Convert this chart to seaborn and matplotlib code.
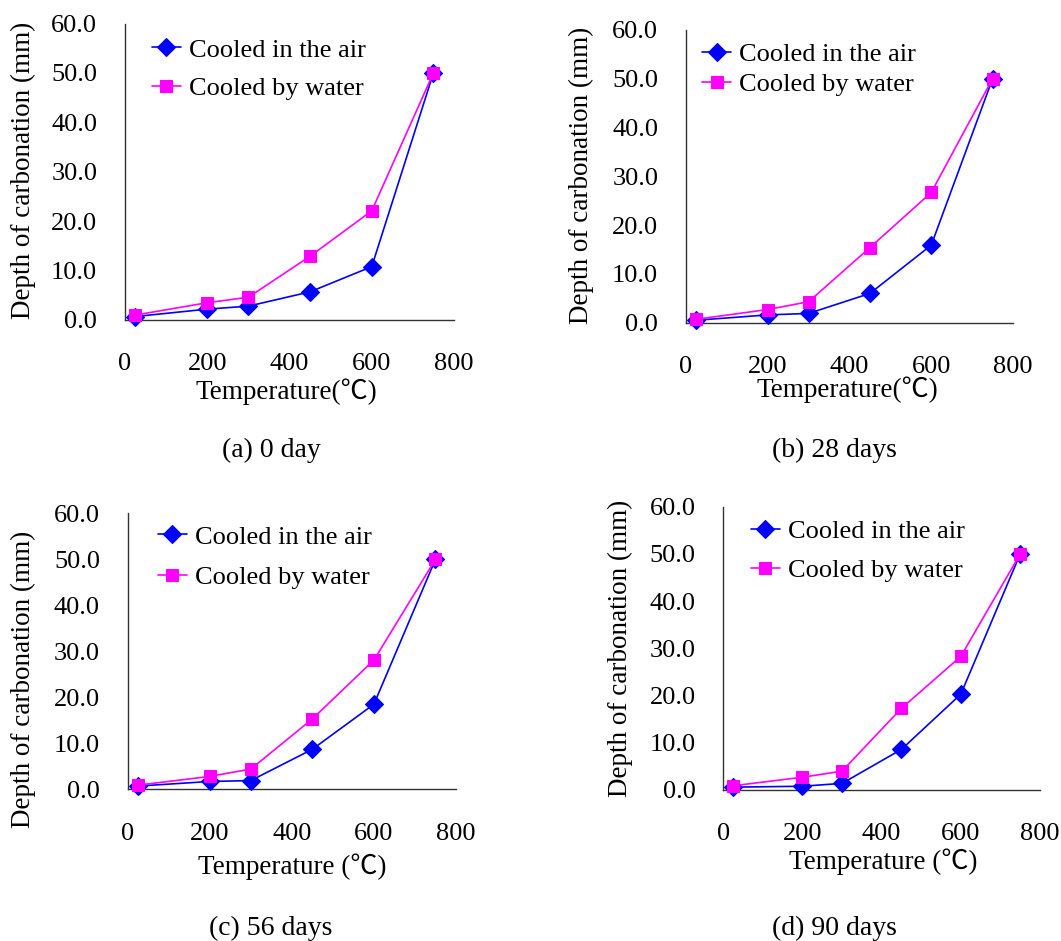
import matplotlib
matplotlib.use("Agg")
import matplotlib.pyplot as plt
import pandas as pd
import seaborn as sns

# Exposure temperature (°C) and measured carbonation depth (mm)
temperature = [25, 200, 300, 450, 600, 750]

air_0 = [0.7, 2.2, 2.8, 5.7, 10.8, 50.0]
water_0 = [1.0, 3.5, 4.6, 12.9, 22.1, 50.0]
air_28 = [0.5, 1.6, 1.9, 6.0, 15.9, 50.0]
water_28 = [0.7, 2.7, 4.3, 15.4, 26.7, 50.0]
air_56 = [0.7, 1.7, 1.9, 8.7, 18.5, 50.0]
water_56 = [0.9, 2.8, 4.4, 15.3, 28.1, 50.0]
air_90 = [0.6, 0.8, 1.4, 8.6, 20.3, 50.0]
water_90 = [0.9, 2.7, 4.0, 17.3, 28.3, 50.0]

series_names = ["Cooled in the air", "Cooled by water"]
captions = ["(a) 0 day", "(b) 28 days", "(c) 56 days", "(d) 90 days"]
x_titles = ["Temperature(℃)", "Temperature(℃)", "Temperature (℃)", "Temperature (℃)"]
y_title = "Depth of carbonation (mm)"
x_ticks = [0, 200, 400, 600, 800]
y_ticks = [0, 10, 20, 30, 40, 50, 60]

sns.set_theme(style="white")
plt.rcParams["font.family"] = ["Liberation Serif", "Noto Sans CJK SC", "DejaVu Sans"]
plt.rcParams["text.color"] = "black"
plt.rcParams["axes.labelcolor"] = "black"
plt.rcParams["axes.unicode_minus"] = False

W, H = 1061, 941
fig = plt.figure(figsize=(W / 100, H / 100), dpi=100)

# panel layout in pixels: (left, top, right, bottom)
layout = [
    dict(box=(125, 23.5, 454, 320), leg=(0.082, 0.951), lsp=0.56,
         xl=(0.492, -0.243), yl=(-0.31, 0.505), cap=(271, 450)),
    dict(box=(686, 30, 1013, 322.7), leg=(0.049, 0.956), lsp=0.25,
         xl=(0.495, -0.23), yl=(-0.319, 0.505), cap=(834, 450)),
    dict(box=(127.7, 513.3, 456, 789.3), leg=(0.092, 0.957), lsp=0.65,
         xl=(0.50, -0.2815), yl=(-0.318, 0.40), cap=(271, 928)),
    dict(box=(723.3, 506.7, 1040, 790), leg=(0.087, 0.953), lsp=0.56,
         xl=(0.504, -0.254), yl=(-0.326, 0.50), cap=(834, 928)),
]
panel_data = [(air_0, water_0), (air_28, water_28), (air_56, water_56), (air_90, water_90)]

colors = ["#0000FF", "#FF00FF"]
markers = ["D", "s"]
msizes = [9, 8.5]

for i, (cfg, (air, water)) in enumerate(zip(layout, panel_data)):
    l, t, r, b = cfg["box"]
    ax = fig.add_axes([l / W, 1 - b / H, (r - l) / W, (b - t) / H])
    df = pd.DataFrame({
        "Temperature": temperature * 2,
        "Depth": air + water,
        "Cooling": [series_names[0]] * len(air) + [series_names[1]] * len(water),
    })
    for k, name in enumerate(series_names):
        sub = df[df["Cooling"] == name]
        sns.lineplot(data=sub, x="Temperature", y="Depth", ax=ax,
                     color=colors[k], marker=markers[k], markersize=msizes[k],
                     markeredgecolor=colors[k], markeredgewidth=0.8,
                     linewidth=1.2, label=name, clip_on=False, zorder=3 + k)

    ax.set_xlim(0, 800)
    ax.set_ylim(0, 60)
    ax.set_xticks(x_ticks)
    ax.set_xticklabels([str(v) for v in x_ticks])
    ax.set_yticks(y_ticks)
    ax.set_yticklabels([f"{v:.1f}" for v in y_ticks])
    ax.tick_params(axis="x", direction="in", length=6, width=1, color="#333333",
                   labelsize=19, pad=24, labelcolor="black")
    ax.tick_params(axis="y", direction="in", length=6, width=1, color="#333333",
                   labelsize=19, pad=20, labelcolor="black")
    for side in ("top", "right"):
        ax.spines[side].set_visible(False)
    for side in ("left", "bottom"):
        ax.spines[side].set_color("#333333")
        ax.spines[side].set_linewidth(1)
    ax.set_facecolor("none")

    ax.set_xlabel(x_titles[i], fontsize=19.5, color="black", va="center")
    ax.xaxis.set_label_coords(*cfg["xl"])
    ax.set_ylabel(y_title, fontsize=19.5, color="black", va="center")
    ax.yaxis.set_label_coords(*cfg["yl"])

    leg = ax.legend(loc="upper left", bbox_to_anchor=cfg["leg"], frameon=False,
                    fontsize=19, borderpad=0, borderaxespad=0, handlelength=1.1,
                    handletextpad=0.3, labelspacing=cfg["lsp"])
    for txt in leg.get_texts():
        txt.set_color("black")

    cx, cy = cfg["cap"]
    fig.text(cx / W, 1 - cy / H, captions[i], ha="center", va="center",
             fontsize=20, color="black")

fig.savefig("out.png", dpi=100)
